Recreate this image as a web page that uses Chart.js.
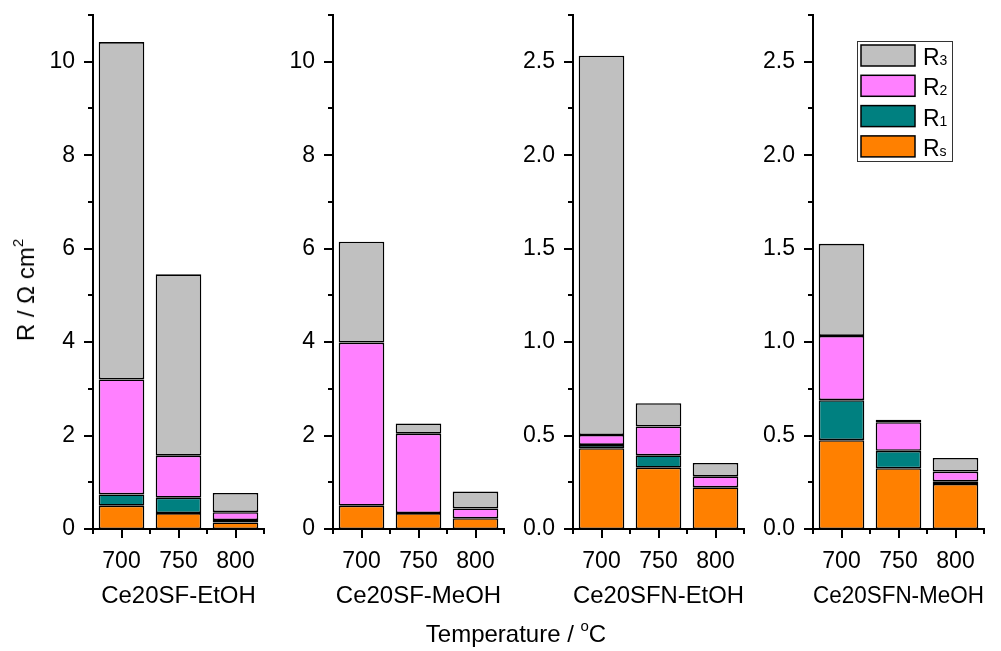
<!DOCTYPE html>
<html>
<head>
<meta charset="utf-8">
<script src="https://cdn.jsdelivr.net/npm/chart.js@4/dist/chart.umd.min.js"></script>
<style>
  html, body { margin: 0; padding: 0; background: #fff; }
  #wrap { position: relative; width: 1001px; height: 651px; overflow: hidden; font-family: "Liberation Sans", Arial, sans-serif; color: #000; }
  #wrap canvas { position: absolute; left: 0; top: 0; }
  .axis-title { position: absolute; font-size: 24px; white-space: nowrap; line-height: 1; }
  .axis-title sup { font-size: 15px; vertical-align: 0; position: relative; top: -0.75em; }
  #ytitle { left: 26px; top: 290px; transform: translate(-50%, -50%) rotate(-90deg); }
  #xtitle { left: 516px; top: 634px; transform: translate(-50%, -50%); }
</style>
</head>
<body>
<div id="wrap">
  <canvas id="p0" width="1001" height="651"></canvas>
  <canvas id="p1" width="1001" height="651"></canvas>
  <canvas id="p2" width="1001" height="651"></canvas>
  <canvas id="p3" width="1001" height="651"></canvas>
  <div class="axis-title" id="ytitle">R / Ω cm<sup>2</sup></div>
  <div class="axis-title" id="xtitle">Temperature / <sup>o</sup>C</div>
</div>
<script>
// Measurement temperatures (°C) and the four electrode samples
const temperatures = ['700', '750', '800'];
const samples = ['Ce20SF-EtOH', 'Ce20SF-MeOH', 'Ce20SFN-EtOH', 'Ce20SFN-MeOH'];

// Resistance contributions (Ω cm²) per sample, at 700 / 750 / 800 °C
const seriesNames = ['Rs', 'R1', 'R2', 'R3'];
const rsValues = [
  [0.50, 0.34, 0.14],
  [0.50, 0.34, 0.23],
  [0.432, 0.328, 0.223],
  [0.475, 0.325, 0.241]
];
const r1Values = [
  [0.24, 0.33, 0.05],
  [0, 0, 0],
  [0.018, 0.066, 0],
  [0.214, 0.093, 0.014]
];
const r2Values = [
  [2.46, 0.90, 0.17],
  [3.49, 1.70, 0.21],
  [0.053, 0.155, 0.059],
  [0.344, 0.153, 0.052]
];
const r3Values = [
  [7.22, 3.88, 0.41],
  [2.16, 0.22, 0.36],
  [2.029, 0.124, 0.071],
  [0.493, 0.013, 0.073]
];

// y-axis range, minor tick step and labelled tick step per panel
const yMax = [11, 11, 2.75, 2.75];
const yStep = [1, 1, 0.25, 0.25];
const yLabelStep = [2, 2, 0.5, 0.5];

const seriesColors = ['#FF8000', '#008080', '#FF80FF', '#C0C0C0'];
const FONT = '"Liberation Sans", Arial, sans-serif';
const AXIS_LEFT = [93, 333, 573, 813];
const AXIS_WIDTH = 171;
const Y_AXIS_W = 70;
const X_AXIS_H = 82;

function isMajor(v, step) {
  const r = v / step;
  return Math.abs(r - Math.round(r)) < 1e-6;
}

function noEdgePadding(scale) {
  scale.paddingTop = 0;
  scale.paddingBottom = 0;
  scale.paddingLeft = 0;
  scale.paddingRight = 0;
}

// Outward tick marks: long at labelled values, short in between
const tickMarks = {
  id: 'tickMarks',
  afterDraw(chart, args, opts) {
    const ctx = chart.ctx;
    const ys = chart.scales.y, xs = chart.scales.x;
    ctx.save();
    ctx.strokeStyle = '#000';
    ctx.lineWidth = 2;
    ctx.lineCap = 'butt';
    ys.ticks.forEach(t => {
      const y = Math.round(ys.getPixelForValue(t.value));
      const len = isMajor(t.value, opts.labelStep) ? 9 : 5;
      ctx.beginPath();
      ctx.moveTo(ys.right - len, y);
      ctx.lineTo(ys.right, y);
      ctx.stroke();
    });
    const n = xs.getLabels().length;
    const w = (xs.right - xs.left) / n;
    for (let k = 0; k <= n; k++) {
      const x = Math.round(xs.left + k * w);
      ctx.beginPath();
      ctx.moveTo(x, xs.top);
      ctx.lineTo(x, xs.top + 5);
      ctx.stroke();
    }
    for (let i = 0; i < n; i++) {
      const x = Math.round(xs.getPixelForValue(i));
      ctx.beginPath();
      ctx.moveTo(x, xs.top);
      ctx.lineTo(x, xs.top + 9);
      ctx.stroke();
    }
    ctx.restore();
  }
};

// Boxed legend, top row = top of the stack, names with subscripts
const boxLegend = {
  id: 'boxLegend',
  afterDraw(chart, args, opts) {
    if (!opts.show) return;
    const ctx = chart.ctx;
    const sets = chart.data.datasets.slice().reverse();
    ctx.save();
    ctx.strokeStyle = '#333';
    ctx.lineWidth = 1;
    ctx.strokeRect(857.5, 41.5, 95, 120);
    sets.forEach((ds, i) => {
      const top = 45 + i * 30.3;
      ctx.fillStyle = ds.backgroundColor;
      ctx.fillRect(861, top, 54, 21);
      ctx.strokeStyle = '#000';
      ctx.lineWidth = 1.5;
      ctx.strokeRect(861, top, 54, 21);
      const base = top + 20;
      ctx.fillStyle = '#000';
      ctx.textBaseline = 'alphabetic';
      ctx.textAlign = 'left';
      ctx.font = '23px ' + FONT;
      const main = ds.label.charAt(0);
      ctx.fillText(main, 923, base);
      const mw = ctx.measureText(main).width;
      ctx.font = '14px ' + FONT;
      ctx.fillText(ds.label.slice(1), 923 + mw, base);
    });
    ctx.restore();
  }
};

const seriesValues = [rsValues, r1Values, r2Values, r3Values];

samples.forEach((name, p) => {
  const datasets = seriesNames.map((s, k) => ({
    label: s,
    data: seriesValues[k][p],
    backgroundColor: seriesColors[k],
    borderColor: '#000',
    borderWidth: 1.6,
    borderSkipped: false,
    categoryPercentage: 1.0,
    barPercentage: 0.8
  }));
  new Chart(document.getElementById('p' + p), {
    type: 'bar',
    data: { labels: temperatures, datasets },
    plugins: [tickMarks, boxLegend],
    options: {
      responsive: false,
      animation: false,
      layout: {
        padding: {
          left: AXIS_LEFT[p] - Y_AXIS_W,
          right: 1001 - AXIS_LEFT[p] - AXIS_WIDTH,
          top: 15,
          bottom: 651 - 529 - X_AXIS_H
        }
      },
      plugins: {
        legend: { display: false },
        tooltip: { enabled: false },
        tickMarks: { labelStep: yLabelStep[p] },
        boxLegend: { show: p === 3 }
      },
      scales: {
        x: {
          stacked: true,
          afterFit(scale) { scale.height = X_AXIS_H; noEdgePadding(scale); },
          grid: { display: false, drawTicks: false },
          border: { display: true, color: '#000', width: 2 },
          ticks: {
            color: '#000',
            padding: 19,
            maxRotation: 0,
            font: { family: FONT, size: 23 }
          },
          title: {
            display: true,
            text: name,
            color: '#000',
            padding: { top: 0, bottom: 0 },
            font: { family: FONT, size: 24 }
          }
        },
        y: {
          stacked: true,
          min: 0,
          max: yMax[p],
          afterFit(scale) { scale.width = Y_AXIS_W; noEdgePadding(scale); },
          grid: { display: false, drawTicks: false },
          border: { display: true, color: '#000', width: 2 },
          ticks: {
            stepSize: yStep[p],
            autoSkip: false,
            color: '#000',
            padding: 18,
            font: { family: FONT, size: 23 },
            callback(v) {
              if (!isMajor(v, yLabelStep[p])) return '';
              return yLabelStep[p] < 1 ? Number(v).toFixed(1) : String(Math.round(v));
            }
          }
        }
      }
    }
  });
});
</script>
</body>
</html>
